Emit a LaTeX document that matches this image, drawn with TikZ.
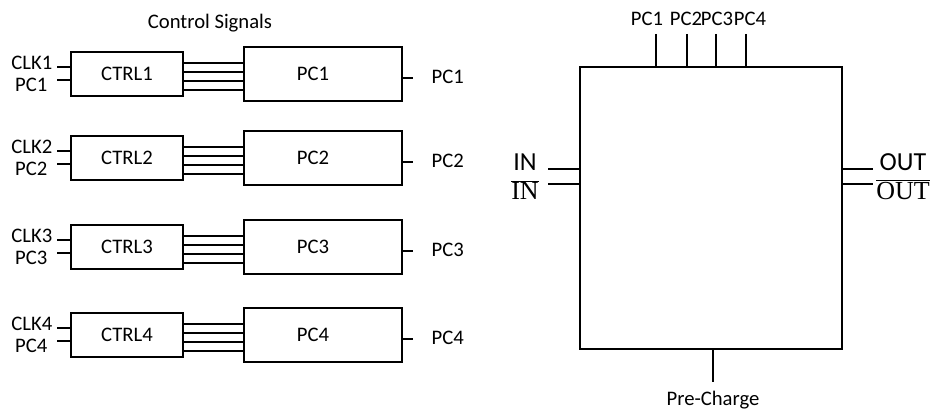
\documentclass[tikz,border=0pt]{standalone}
\usepackage{fontspec}
\setmainfont{Carlito}
\newfontfamily\barfont{Liberation Serif}
\usetikzlibrary{positioning,calc}
\tikzset{
  ctrlbox/.style={
    draw,
    line width=1.4pt,
    minimum width=84pt,
    minimum height=33pt,
    inner sep=0pt
  },
  pcbox/.style={
    ctrlbox,
    minimum width=118.5pt,
    minimum height=40.5pt
  },
  corebox/.style={
    ctrlbox,
    minimum width=196.5pt,
    minimum height=211.5pt
  },
  wire/.style={line width=1.4pt},
  pinlabel/.style={inner sep=1pt},
  biglabel/.style={inner sep=0pt,font=\fontsize{19.5}{22}\selectfont}
}

\begin{document}
\begin{tikzpicture}[x=0.75pt,y=-0.75pt,font=\fontsize{15.5}{18}\selectfont]
  \useasboundingbox (0,0) rectangle (931,410);
  % left: control blocks
  \node (ctlsig) at (210,23) {Control Signals};
  \foreach \i/\y in {1/74,2/158,3/247,4/335}{
    \node[ctrlbox] (ctrl\i) at (127,\y) {CTRL\i};
    \node[pcbox] (pc\i) at (323,\y) {\hspace*{-15pt}PC\i};
    \foreach \o in {-11,-2,7,16}
      \draw[wire] ($(ctrl\i.east)+(0,\o)$) -- ($(pc\i.west)+(0,\o)$);
    \coordinate (clkin\i) at (57,\y-7);
    \coordinate (pcin\i) at (57,\y+6);
    \coordinate (pcout\i) at (413,\y+4);
    \draw[wire] (clkin\i) -- (clkin\i -| ctrl\i.west);
    \draw[wire] (pcin\i) -- (pcin\i -| ctrl\i.west);
    \draw[wire] (pcout\i -| pc\i.east) -- (pcout\i);
    \node[pinlabel,anchor=east] (clklab\i) at (54,\y-11) {CLK\i};
    \node[pinlabel,anchor=east] (pcinlab\i) at (49,\y+11) {PC\i};
    \node[pinlabel,anchor=west] (pcoutlab\i) at (430,\y+3) {PC\i};
  }
  % right: core block
  \node[corebox] (core) at (711,208) {};
  \foreach \j/\x/\lx in {1/656/647,2/687/686,3/716/717,4/746/750}{
    \coordinate (top\j) at (\x,34);
    \draw[wire] (top\j) -- (top\j |- core.north);
    \node[pinlabel] (toplab\j) at (\lx,19) {PC\j};
  }
  \coordinate (inA) at (548,169);
  \coordinate (inB) at (548,184);
  \coordinate (outA) at (873,169);
  \coordinate (outB) at (873,184);
  \draw[wire] (inA) -- (inA -| core.west);
  \draw[wire] (inB) -- (inB -| core.west);
  \draw[wire] (outA -| core.east) -- (outA);
  \draw[wire] (outB -| core.east) -- (outB);
  \node[biglabel] (inlab) at (525,162) {IN};
  \node[biglabel] (inbarlab) at (525,190) {\barfont$\overline{\mbox{IN}}$};
  \node[biglabel] (outlab) at (903,162) {OUT};
  \node[biglabel] (outbarlab) at (903,190) {\barfont$\overline{\mbox{OUT}}$};
  \coordinate (pre) at (713,382);
  \draw[wire] (core.south -| pre) -- (pre);
  \node (prelab) at (713,400) {Pre-Charge};
\end{tikzpicture}
\end{document}
